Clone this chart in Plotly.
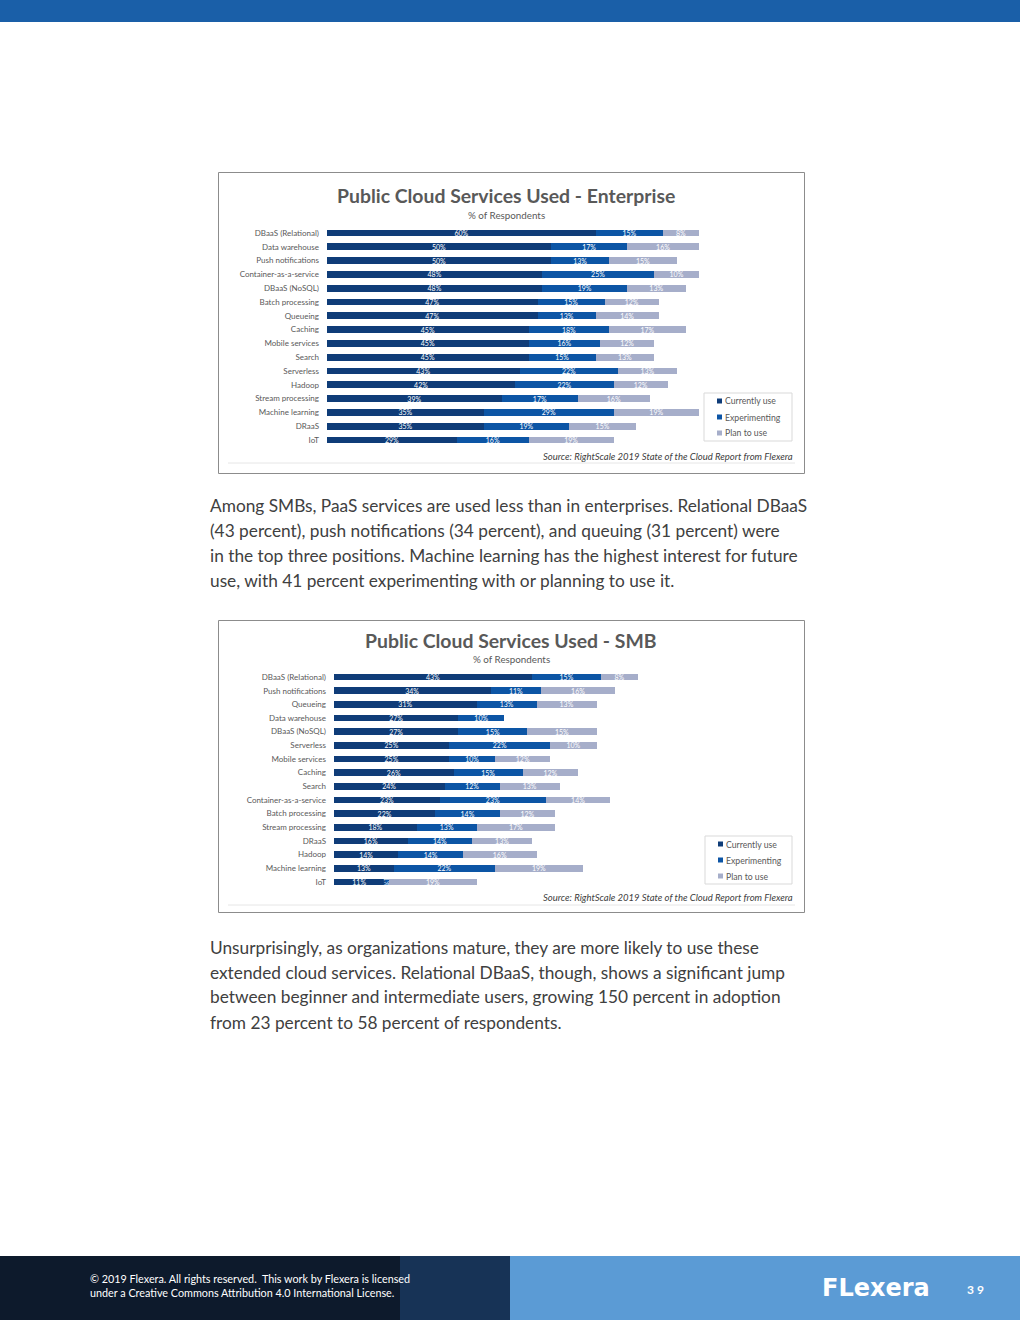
import plotly.graph_objects as go

# ---------------- data ----------------
SERIES = ["Currently use", "Experimenting", "Plan to use"]
COLORS = ["#0f3c78", "#0c55a5", "#a6aeca"]

ENT_CATS = ["DBaaS (Relational)", "Data warehouse", "Push notifications", "Container-as-a-service",
            "DBaaS (NoSQL)", "Batch processing", "Queueing", "Caching", "Mobile services", "Search",
            "Serverless", "Hadoop", "Stream processing", "Machine learning", "DRaaS", "IoT"]
ENT_CURRENT = [60, 50, 50, 48, 48, 47, 47, 45, 45, 45, 43, 42, 39, 35, 35, 29]
ENT_EXPER = [15, 17, 13, 25, 19, 15, 13, 18, 16, 15, 22, 22, 17, 29, 19, 16]
ENT_PLAN = [8, 16, 15, 10, 13, 12, 14, 17, 12, 13, 13, 12, 16, 19, 15, 19]

SMB_CATS = ["DBaaS (Relational)", "Push notifications", "Queueing", "Data warehouse", "DBaaS (NoSQL)",
            "Serverless", "Mobile services", "Caching", "Search", "Container-as-a-service",
            "Batch processing", "Stream processing", "DRaaS", "Hadoop", "Machine learning", "IoT"]
SMB_CURRENT = [43, 34, 31, 27, 27, 25, 25, 26, 24, 23, 22, 18, 16, 14, 13, 11]
SMB_EXPER = [15, 11, 13, 10, 15, 22, 10, 15, 12, 23, 14, 13, 14, 14, 22, 1]
SMB_PLAN = [8, 16, 13, None, 15, 10, 12, 12, 13, 14, 12, 17, 13, 16, 19, 19]

ENT_TITLE = "Public Cloud Services Used - Enterprise"
SMB_TITLE = "Public Cloud Services Used - SMB"
SUBTITLE = "% of Respondents"
SOURCE = "Source: RightScale 2019 State of the Cloud Report from Flexera"

PARA1 = ["Among SMBs, PaaS services are used less than in enterprises. Relational DBaaS",
         "(43 percent), push notifications (34 percent), and queuing (31 percent) were",
         "in the top three positions. Machine learning has the highest interest for future",
         "use, with 41 percent experimenting with or planning to use it."]
PARA2 = ["Unsurprisingly, as organizations mature, they are more likely to use these",
         "extended cloud services. Relational DBaaS, though, shows a significant jump",
         "between beginner and intermediate users, growing 150 percent in adoption",
         "from 23 percent to 58 percent of respondents."]
FOOTER = ["\u00a9 2019 Flexera. All rights reserved.  This work by Flexera is licensed",
          "under a Creative Commons Attribution 4.0 International License."]

# ---------------- helpers ----------------
W, H = 1020, 1320
FONT = "Lato"


def px(x):
    return x / W


def py(y):
    return 1 - y / H


fig = go.Figure()
annotations = []
shapes = []


def add_text(text, x, y, size, color="#404040", xanchor="left", bold=False, italic=False, family=FONT):
    t = text
    if bold:
        t = "<b>" + t + "</b>"
    if italic:
        t = "<i>" + t + "</i>"
    annotations.append(dict(text=t, x=px(x), y=py(y), xref="paper", yref="paper", xanchor=xanchor,
                            yanchor="middle", showarrow=False, font=dict(size=size, color=color, family=family)))


def add_chart(idx, cats, series_vals, xmax, xdom, ydom, box, title_xy, legend_xy, source_y, line_y):
    xa = "x" if idx == 1 else f"x{idx}"
    ya = "y" if idx == 1 else f"y{idx}"
    for name, color, vals in zip(SERIES, COLORS, series_vals):
        fig.add_trace(go.Bar(
            y=cats, x=vals, orientation="h", name=name, marker=dict(color=color, line=dict(width=0)),
            width=0.5, text=[f"{v}%" if v else "" for v in vals], textposition="inside",
            insidetextanchor="middle", textfont=dict(size=7, color="white", family=FONT),
            showlegend=False, xaxis=xa, yaxis=ya, hoverinfo="skip"))
    lay_x = "xaxis" if idx == 1 else f"xaxis{idx}"
    lay_y = "yaxis" if idx == 1 else f"yaxis{idx}"
    fig.update_layout(**{
        lay_x: dict(domain=[px(xdom[0]), px(xdom[1])], range=[0, xmax], showticklabels=False,
                    showgrid=False, zeroline=False, showline=False, anchor=ya, fixedrange=True),
        lay_y: dict(domain=[py(ydom[1]), py(ydom[0])], autorange="reversed", type="category",
                    categoryorder="array", categoryarray=cats, showgrid=False, zeroline=False,
                    showline=False, ticks="", ticklabelstandoff=7, anchor=xa,
                    tickfont=dict(size=8, color="#595959", family=FONT)),
    })
    # border
    shapes.append(dict(type="rect", xref="paper", yref="paper", x0=px(box[0]), x1=px(box[1]),
                       y0=py(box[3]), y1=py(box[2]), line=dict(color="#8c8c8c", width=1), layer="below"))
    # title
    add_text(title_xy[0], title_xy[1], title_xy[2], 19.4, color="#595959", xanchor="center", bold=True)
    add_text(SUBTITLE, title_xy[1], title_xy[2] + 19, 9.8, color="#595959", xanchor="center")
    # source and rule
    add_text(SOURCE, 795, source_y, 9.5, color="#404040", xanchor="right", italic=True)
    shapes.append(dict(type="line", xref="paper", yref="paper", x0=px(228), x1=px(795),
                       y0=py(line_y), y1=py(line_y), line=dict(color="#e6e6e6", width=1)))
    # legend box
    lx0, ly0, lx1, ly1 = legend_xy
    shapes.append(dict(type="rect", xref="paper", yref="paper", x0=px(lx0), x1=px(lx1),
                       y0=py(ly1), y1=py(ly0), line=dict(color="#d9d9d9", width=1), fillcolor="white"))
    for i, (name, color) in enumerate(zip(SERIES, COLORS)):
        cy = ly0 + 8 + i * 16
        shapes.append(dict(type="rect", xref="paper", yref="paper", x0=px(lx0 + 13), x1=px(lx0 + 18),
                           y0=py(cy + 2.5), y1=py(cy - 2.5), line=dict(width=0), fillcolor=color))
        add_text(name, lx0 + 19, cy, 8.7, color="#595959")


# top band
shapes.append(dict(type="rect", xref="paper", yref="paper", x0=0, x1=1, y0=py(22), y1=1,
                   line=dict(width=0), fillcolor="#1a5fa8", layer="below"))

add_chart(1, ENT_CATS, [ENT_CURRENT, ENT_EXPER, ENT_PLAN], 83, (327, 699), (226.1, 446.9),
          (218.5, 804.5, 172.5, 473.5), (ENT_TITLE, 506, 196), (704, 393, 792, 441), 456, 463)
add_chart(2, SMB_CATS, [SMB_CURRENT, SMB_EXPER, SMB_PLAN], 66, (334, 638), (670.2, 888.8),
          (218.5, 804.5, 620.5, 912.5), (SMB_TITLE, 511, 640), (705, 836, 792, 884), 897, 905)

for i, line in enumerate(PARA1):
    add_text(line, 208, 505 + 25 * i, 17.3, color="#404040")
for i, line in enumerate(PARA2):
    add_text(line, 208, 947 + 25 * i, 17.3, color="#404040")

# footer
shapes.append(dict(type="rect", xref="paper", yref="paper", x0=0, x1=px(510), y0=0, y1=py(1256),
                   line=dict(width=0), fillcolor="#0d1a2c", layer="below"))
shapes.append(dict(type="rect", xref="paper", yref="paper", x0=px(400), x1=px(510), y0=0, y1=py(1256),
                   line=dict(width=0), fillcolor="rgba(40,90,150,0.40)", layer="below"))
shapes.append(dict(type="rect", xref="paper", yref="paper", x0=px(510), x1=1, y0=0, y1=py(1256),
                   line=dict(width=0), fillcolor="#5b9bd5", layer="below"))
for i, line in enumerate(FOOTER):
    add_text(line, 88, 1278 + 14 * i, 10.8, color="white")
add_text("FLexera", 876, 1288, 24, color="white", xanchor="center", bold=True, family="DejaVu Sans")
add_text("3 9", 975, 1289, 12, color="white", xanchor="center", bold=True)

fig.update_layout(
    width=W, height=H, margin=dict(l=0, r=0, t=0, b=0, pad=0),
    paper_bgcolor="white", plot_bgcolor="white", barmode="stack", showlegend=False,
    uniformtext=dict(minsize=7, mode="show"),
    annotations=annotations, shapes=shapes, font=dict(family=FONT),
)

fig.write_html("out.html", config={"displayModeBar": False},
               post_script="document.body.style.margin='0px';")
